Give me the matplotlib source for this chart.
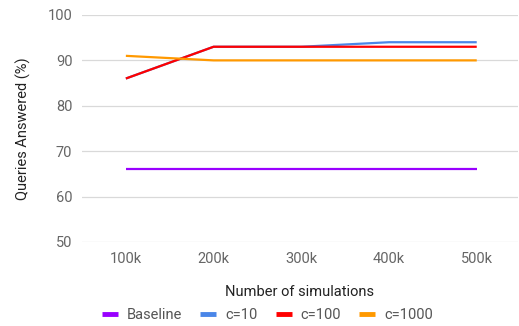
import matplotlib.pyplot as plt

plt.rcParams['font.family'] = ['Roboto', 'DejaVu Sans']

sims = ["100k", "200k", "300k", "400k", "500k"]
baseline = [66, 66, 66, 66, 66]
c10 = [86, 93, 93, 94, 94]
c100 = [86, 93, 93, 93, 93]
c1000 = [91, 90, 90, 90, 90]

series = [("Baseline", baseline, "#9900ff"),
          ("c=10", c10, "#4a86e8"),
          ("c=100", c100, "#ff0000"),
          ("c=1000", c1000, "#ff9900")]

fig = plt.figure(figsize=(5.19, 3.26), dpi=100)
ax = fig.add_axes([0.158, 0.258, 0.84, 0.696])

x = range(len(sims))
for name, vals, col in series:
    ax.plot(x, vals, color=col, lw=1.6, label=name, solid_capstyle="butt")

ax.set_xlim(-0.5, 4.47)
ax.set_ylim(50, 100)
ax.set_yticks([50, 60, 70, 80, 90, 100])
ax.set_xticks(list(x))
ax.set_xticklabels(sims)
ax.grid(axis="y", color="#d9d9d9", lw=0.9)
ax.set_axisbelow(True)
for s in ax.spines.values():
    s.set_visible(False)
ax.tick_params(length=0, labelsize=10.5, labelcolor="#666666", pad=7)
ax.tick_params(axis="x", pad=7)

ax.set_ylabel("Queries Answered (%)", fontsize=10.5, color="#222222", labelpad=12)
ax.set_xlabel("Number of simulations", fontsize=10.5, color="#222222", labelpad=14)

leg = fig.legend(loc="center", bbox_to_anchor=(0.515, 0.034), ncol=4, frameon=False,
                 fontsize=10.5, handlelength=1.1, handletextpad=0.6, columnspacing=1.25)
for h in leg.get_lines():
    h.set_linewidth(3.5)
for t in leg.get_texts():
    t.set_color("#555555")

fig.savefig("out.png", dpi=100)
